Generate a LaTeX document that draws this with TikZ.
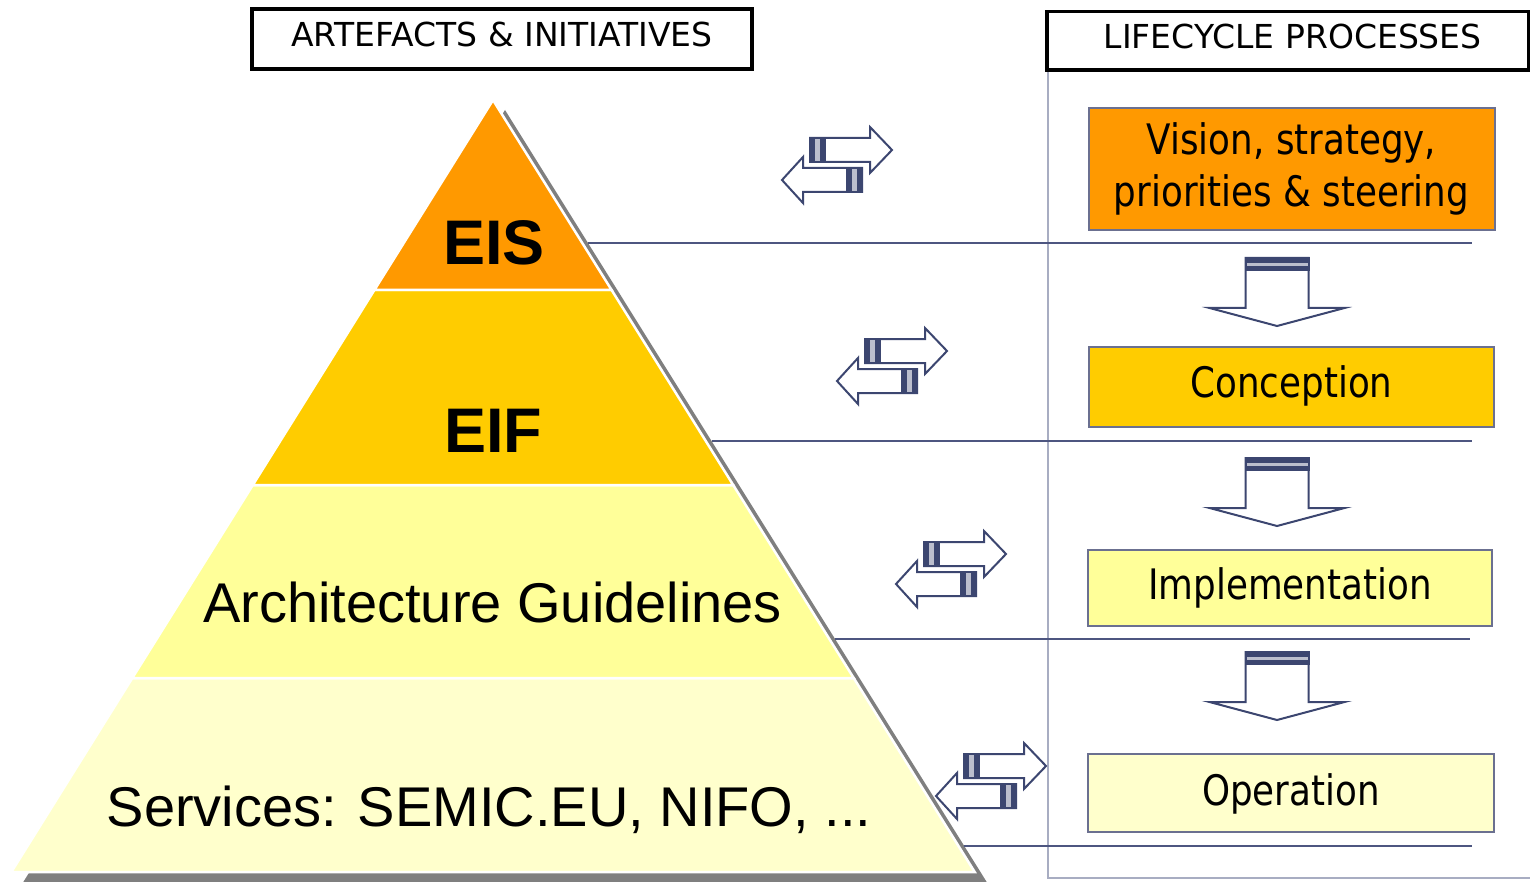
\documentclass[tikz,border=0pt]{standalone}
\usepackage{fontspec}
\setmainfont{Liberation Sans}
\newfontfamily\hdrfont{DejaVu Sans}
\newfontfamily\boxfont[FakeStretch=0.85]{DejaVu Sans}
\definecolor{cEIS}{HTML}{FF9900}
\definecolor{cEIF}{HTML}{FFCC00}
\definecolor{cAG}{HTML}{FFFF99}
\definecolor{cSV}{HTML}{FFFFCC}
\definecolor{lineblue}{HTML}{4D5680}
\definecolor{panelgrey}{HTML}{A8ADC2}
\definecolor{arrowblue}{HTML}{3C4670}
\definecolor{boxline}{HTML}{6B7090}
\definecolor{shadowgrey}{HTML}{7F7F7F}
\tikzset{
  layer/.style={draw=white, line width=2.5pt, line join=miter},
  sepline/.style={draw=lineblue, line width=2pt},
  hdrbox/.style={draw=black, line width=3.5pt, fill=white, inner sep=0pt, font=\hdrfont\fontsize{33}{40}\selectfont},
  procbox/.style={draw=boxline, line width=2pt, inner sep=0pt, font=\boxfont\fontsize{42}{52}\selectfont},
  pyrbig/.style={inner sep=0pt, anchor=base, font=\bfseries\fontsize{63}{70}\selectfont},
  pyrtext/.style={inner sep=0pt, anchor=base, font=\fontsize{56}{64}\selectfont},
  arrowline/.style={draw=arrowblue, line width=2pt, fill=white, line join=miter},
  dblarrow/.pic={
    \path[arrowline] (28,11) -- (88,11) -- (88,0) -- (110,23) -- (88,46) -- (88,35) -- (28,35) -- cycle;
    \fill[arrowblue] (28,11) rectangle (33,35);
    \fill[arrowblue!35] (33,11) rectangle (38,35);
    \fill[arrowblue] (38,11) rectangle (43,35);
    \draw[arrowblue, line width=2pt] (28,11) rectangle (43,35);
    \path[arrowline] (80,41) -- (21,41) -- (21,30) -- (0,53) -- (21,76) -- (21,65) -- (80,65) -- cycle;
    \fill[arrowblue] (65,41) rectangle (70,65);
    \fill[arrowblue!35] (70,41) rectangle (75,65);
    \fill[arrowblue] (75,41) rectangle (80,65);
    \draw[arrowblue, line width=2pt] (65,41) rectangle (80,65);
  },
  downarrow/.pic={
    \path[arrowline] (-31.5,0) -- (31.5,0) -- (31.5,50) -- (67.5,50) -- (0,68) -- (-67.5,50) -- (-31.5,50) -- cycle;
    \fill[arrowblue] (-31.5,0) rectangle (31.5,5);
    \fill[arrowblue!35] (-31.5,5) rectangle (31.5,8);
    \fill[arrowblue] (-31.5,8) rectangle (31.5,12);
    \draw[arrowblue, line width=2pt] (-31.5,0) rectangle (31.5,12);
  }
}
\begin{document}
\begin{tikzpicture}[x=1pt,y=-1pt]
\useasboundingbox (0,0) rectangle (1530,882);
\fill[white] (0,0) rectangle (1530,882);

% right panel frame
\draw[panelgrey, line width=1.5pt] (1048,70) -- (1048,878) -- (1540,878);

% pyramid shadow
\fill[shadowgrey] (505,110) -- (986.7,882) -- (23.3,882) -- cycle;
% pyramid layers
\path[layer, fill=cSV] (132.3,678) -- (853.7,678) -- (974.7,872) -- (11.3,872) -- cycle;
\path[layer, fill=cAG] (252.8,485) -- (733.2,485) -- (853.7,678) -- (132.3,678) -- cycle;
\path[layer, fill=cEIF] (374.4,290) -- (611.6,290) -- (733.2,485) -- (252.8,485) -- cycle;
\path[layer, fill=cEIS] (493,100) -- (611.6,290) -- (374.4,290) -- cycle;

\node[pyrbig] (eis) at (494,265) {EIS};
\node[pyrbig] (eif) at (493,452) {EIF};
\node[pyrtext] (ag) at (492.5,622) {Architecture Guidelines};
\node[pyrtext] (sv) at (489,826) {Services: SEMIC.EU, NIFO, ...};

% separator lines
\coordinate (s1a) at (588,243);   \coordinate (s1b) at (1472,243);
\coordinate (s2a) at (711.5,441); \coordinate (s2b) at (1472,441);
\coordinate (s3a) at (835,639);   \coordinate (s3b) at (1470,639);
\coordinate (s4a) at (964,846);   \coordinate (s4b) at (1472,846);
\draw[sepline] (s1a) -- (s1b);
\draw[sepline] (s2a) -- (s2b);
\draw[sepline] (s3a) -- (s3b);
\draw[sepline] (s4a) -- (s4b);

% headers
\node[hdrbox, anchor=base, minimum width=500pt, text height=38pt, text depth=22pt] (art) at (502,47) {ARTEFACTS \& INITIATIVES};
\node[hdrbox, anchor=base, minimum width=481.5pt, text height=37.25pt, text depth=21pt] (life) at (1287.75,49) {\hspace*{10pt}LIFECYCLE PROCESSES};

% process boxes
\node[procbox, fill=cEIS, minimum width=406pt, minimum height=122pt, align=center] (vis) at (1291.5,169) {Vision, strategy,\\priorities \& steering};
\node[procbox, fill=cEIF, anchor=base, minimum width=405pt, text height=50pt, text depth=30pt] (con) at (1291.5,397) {Conception};
\node[procbox, fill=cAG, anchor=base, minimum width=404pt, text height=49pt, text depth=27pt] (imp) at (1290,599) {Implementation};
\node[procbox, fill=cSV, anchor=base, minimum width=406pt, text height=51pt, text depth=27pt] (ope) at (1291,805) {Operation};

% flow arrows
\pic at (1277,258) {downarrow};
\pic at (1277,458) {downarrow};
\pic at (1277,652) {downarrow};

% exchange arrows
\pic at (782,127) {dblarrow};
\pic at (837,328) {dblarrow};
\pic at (896,531) {dblarrow};
\pic at (936,743) {dblarrow};
\end{tikzpicture}
\end{document}
